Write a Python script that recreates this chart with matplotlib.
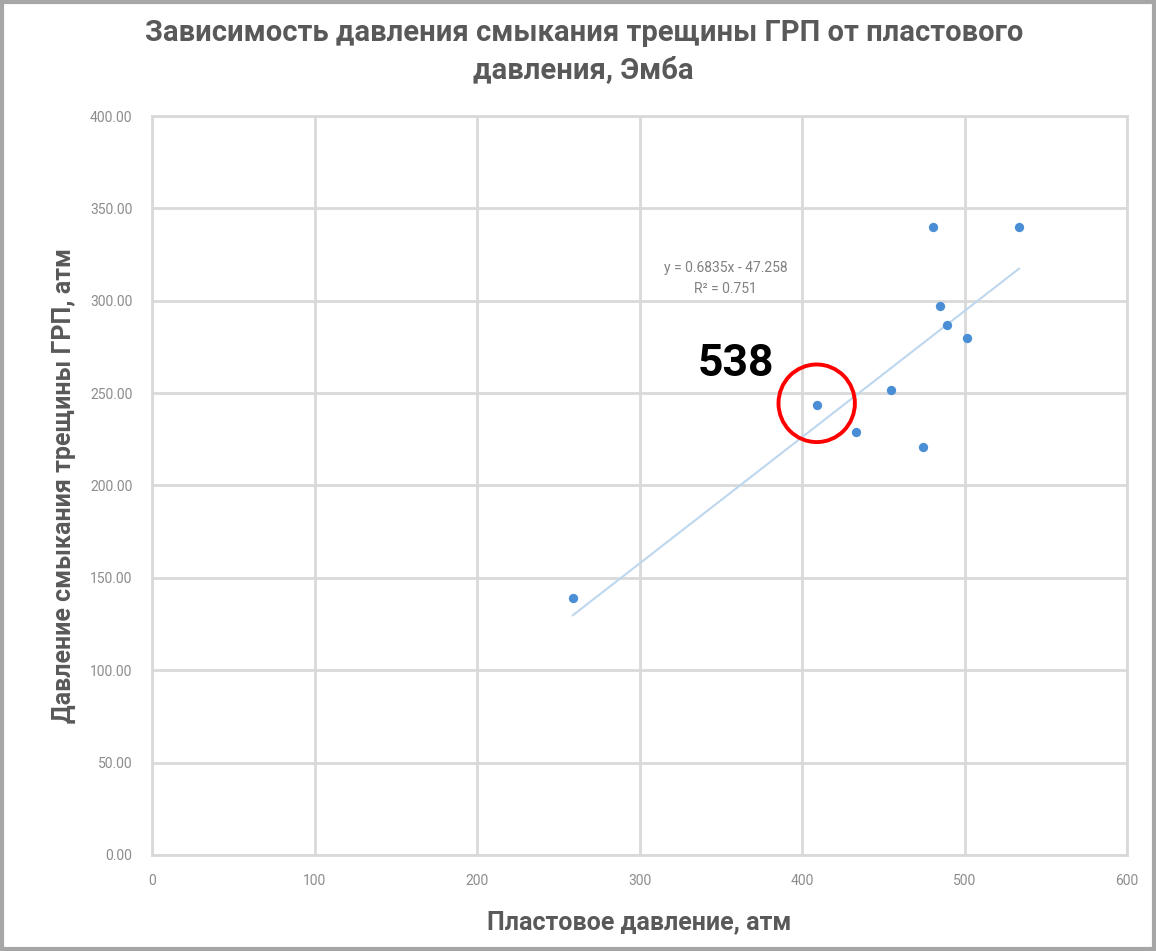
import matplotlib
matplotlib.use("Agg")
import matplotlib.pyplot as plt
from matplotlib import font_manager as fm
from matplotlib.patches import Ellipse, Rectangle
import numpy as np

# Data
x_vals = [259, 409, 433, 455, 474.5, 480.5, 485, 489, 501.5, 533.5]
y_vals = [139, 243.5, 229, 251.5, 221, 340, 297, 287, 280, 340]
slope, intercept = 0.6835, -47.258
x_ticks = [0, 100, 200, 300, 400, 500, 600]
y_ticks = [0, 50, 100, 150, 200, 250, 300, 350, 400]
title = "Зависимость давления смыкания трещины ГРП от пластового\nдавления, Эмба"
xlabel = "Пластовое давление, атм"
ylabel = "Давление смыкания трещины ГРП, атм"
eq_text = "y = 0.6835x - 47.258\nR² = 0.751"
highlight_label = "538"
highlight_x, highlight_y = 409, 243.5

names = {f.name for f in fm.fontManager.ttflist}
narrow = "Liberation Sans Narrow" if "Liberation Sans Narrow" in names else "Roboto"

fig = plt.figure(figsize=(11.56, 9.51), dpi=100)
ax = fig.add_axes([0.1315, 0.101, 0.8435, 0.777])

gc = "#d9d9d9"
ax.set_xlim(0, 600)
ax.set_ylim(0, 400)
ax.set_xticks(x_ticks)
ax.set_yticks(y_ticks)
ax.set_xticklabels([str(t) for t in x_ticks])
ax.set_yticklabels([f"{t:.2f}" for t in y_ticks])
ax.grid(True, color=gc, linewidth=2)
for s in ax.spines.values():
    s.set_color(gc)
    s.set_linewidth(2)
ax.tick_params(length=0, colors="#8c8c8c", labelsize=10, pad=14)
for lab in ax.get_xticklabels() + ax.get_yticklabels():
    lab.set_family(narrow)

# trendline
xt = np.array([min(x_vals), max(x_vals)])
ax.plot(xt, slope * xt + intercept, color="#bdd7ee", linewidth=1.5, zorder=2)
ax.scatter(x_vals, y_vals, s=45, color="#4a8fd6", zorder=3, linewidths=0)

ax.text(353, 312, eq_text, ha="center", va="center", fontsize=10,
        color="#808080", family=narrow, linespacing=1.6)

ax.text(359, 266, highlight_label, ha="center", va="center", fontsize=32,
        fontweight="bold", color="black", family=narrow)
ax.add_patch(Ellipse((highlight_x, highlight_y + 1), 47, 42, fill=False,
                     edgecolor="#ff0000", linewidth=2.8, zorder=4))

fig.text(0.505, 0.946, title, ha="center", va="center", fontsize=21,
         fontweight="bold", color="#595959", family=narrow, linespacing=1.4)
ax.set_xlabel(xlabel, fontsize=18, fontweight="bold", color="#595959",
              family=narrow, labelpad=16)
ax.set_ylabel(ylabel, fontsize=18, fontweight="bold", color="#595959",
              family=narrow, labelpad=10)

fig.patches.append(Rectangle((0.002, 0.002), 0.996, 0.996, transform=fig.transFigure,
                             fill=False, edgecolor="#a6a6a6", linewidth=3))

fig.savefig("out.png", dpi=100)
